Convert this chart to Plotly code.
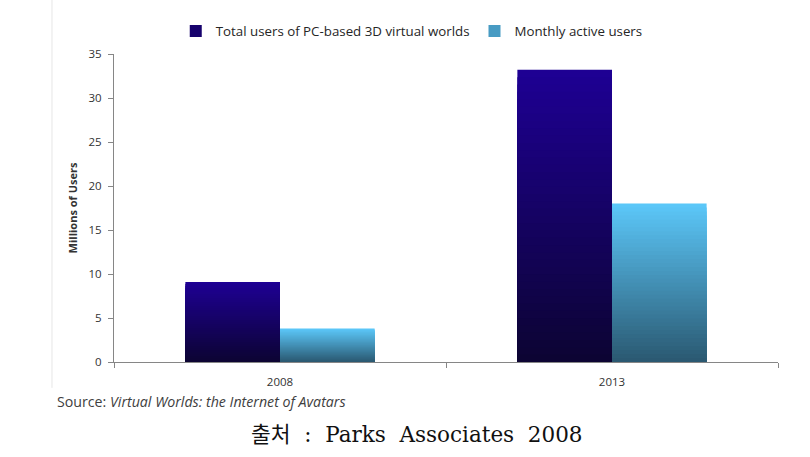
import plotly.graph_objects as go

years = ["2008", "2013"]
total_users = [9.1, 33.2]
monthly_active = [3.8, 18.0]
series_names = ["Total users of PC-based 3D virtual worlds", "Monthly active users"]

# gradient colours (bottom -> top) for each series
grad = {
    "total": ((12, 4, 50), (30, 0, 148)),
    "active": ((42, 88, 112), (92, 200, 250)),
}
N = 40

def lerp(c0, c1, t):
    return "rgb(%d,%d,%d)" % tuple(round(a + (b - a) * t) for a, b in zip(c0, c1))

fig = go.Figure()
for key, vals, name in (("total", total_users, series_names[0]), ("active", monthly_active, series_names[1])):
    c0, c1 = grad[key]
    # nested bars, tallest first, so the gradient has no seams
    for k in range(N - 1, -1, -1):
        fig.add_trace(go.Bar(
            x=years,
            y=[v * (k + 1) / N for v in vals],
            offsetgroup=key,
            marker=dict(color=lerp(c0, c1, (k + 0.5) / N), line=dict(width=0)),
            showlegend=False,
            hoverinfo="skip",
        ))
    # legend entry
    fig.add_trace(go.Bar(
        x=[None], y=[None], offsetgroup=key, name=name,
        marker=dict(color=lerp(c0, c1, 0.6), line=dict(width=0)),
        showlegend=True,
    ))

fig.update_layout(
    width=810, height=457,
    paper_bgcolor="white", plot_bgcolor="white",
    margin=dict(l=114, r=32, t=54, b=95, autoexpand=False),
    barmode="group", bargap=0.43, bargroupgap=0,
    font=dict(family="Open Sans, Lato, sans-serif", size=12, color="#404040"),
    legend=dict(orientation="h", x=0.093, xanchor="left", y=1.023, yanchor="bottom",
                yref="paper", font=dict(size=13.3, color="#262626"),
                itemwidth=30, tracegroupgap=0, bgcolor="rgba(0,0,0,0)"),
    xaxis=dict(
        automargin=False,
        showline=True, linecolor="#868686", linewidth=1,
        ticks="outside", tickson="boundaries", ticklen=5, tickcolor="#868686",
        tickfont=dict(size=11.5, color="#333333"), showgrid=False, ticklabelstandoff=9,
    ),
    yaxis=dict(
        automargin=False,
        range=[0, 35], dtick=5, showline=True, linecolor="#868686", linewidth=1,
        ticks="outside", ticklen=5, tickcolor="#868686", showgrid=False, zeroline=False,
        tickfont=dict(size=11.5, color="#333333"), ticklabelstandoff=4,
        title=dict(text="<b>Millions of Users</b>", font=dict(size=11, color="#333333"), standoff=8),
    ),
)

# faint border of the original chart image
fig.add_shape(type="line", xref="paper", yref="paper", x0=-0.0934, x1=-0.0934, y0=-0.084, y1=1.2,
              line=dict(color="#e6e6e6", width=1))

fig.add_annotation(
    text="Source: <i>Virtual Worlds: the Internet of Avatars</i>",
    xref="paper", yref="paper", x=-0.0889, y=-0.129, xanchor="left", yanchor="middle",
    showarrow=False, font=dict(size=14.2, color="#404040", family="Open Sans, Lato, sans-serif"),
)
fig.add_annotation(
    text="출처  :  Parks  Associates  2008",
    xref="paper", yref="paper", x=0.457, y=-0.237, xanchor="center", yanchor="middle",
    showarrow=False, font=dict(size=21.5, color="#111111", family="DejaVu Serif, Noto Sans CJK KR, serif"),
)

fig.write_html("out.html", config={"displayModeBar": False},
               post_script="document.body.style.margin='0px';")
